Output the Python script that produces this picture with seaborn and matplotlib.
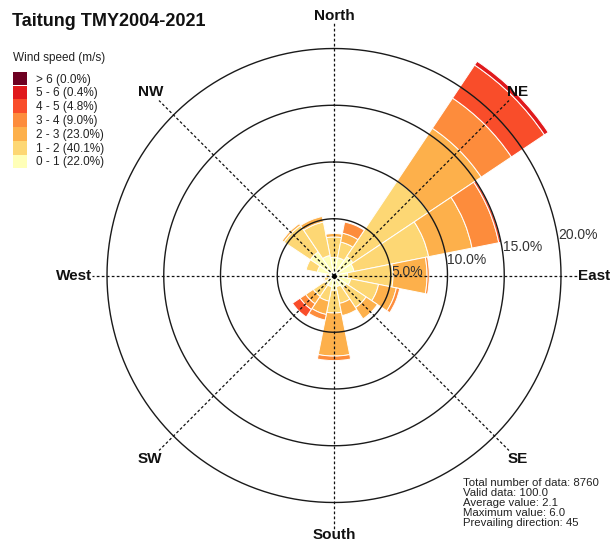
import numpy as np
import matplotlib.pyplot as plt
import matplotlib.patches as mpatches
import seaborn as sns

sns.set_theme(style="white")
plt.rcParams['font.family'] = ['Liberation Sans', 'DejaVu Sans']

directions = ['N', 'NNE', 'NE', 'ENE', 'E', 'ESE', 'SE', 'SSE',
              'S', 'SSW', 'SW', 'WSW', 'W', 'WNW', 'NW', 'NNW']
# frequency (%) of each wind speed class per direction
speed_0_1 = [1.6, 1.6, 2.0, 1.8, 1.2, 1.5, 1.3, 1.0, 1.3, 1.0, 1.0, 0.5, 0.4, 1.5, 2.5, 1.8]
speed_1_2 = [1.8, 1.4, 8.0, 6.7, 4.0, 2.5, 2.1, 1.5, 2.0, 1.3, 1.2, 0.4, 0.3, 1.0, 2.8, 3.0]
speed_2_3 = [0.3, 0.8, 5.6, 3.9, 3.0, 1.6, 1.2, 1.1, 3.8, 1.2, 0.8, 0.1, 0.0, 0.0, 0.2, 0.5]
speed_3_4 = [0.0, 1.0, 3.2, 2.4, 0.2, 0.3, 0.0, 0.0, 0.4, 0.5, 0.6, 0.0, 0.0, 0.0, 0.0, 0.0]
speed_4_5 = [0.0, 0.0, 3.5, 0.2, 0.0, 0.0, 0.0, 0.0, 0.0, 0.0, 0.8, 0.0, 0.0, 0.0, 0.0, 0.0]
speed_5_6 = [0.0, 0.0, 0.4, 0.0, 0.0, 0.0, 0.0, 0.0, 0.0, 0.0, 0.0, 0.0, 0.0, 0.0, 0.0, 0.0]
speed_6_up = [0.0] * 16

speed_classes = [speed_0_1, speed_1_2, speed_2_3, speed_3_4, speed_4_5, speed_5_6, speed_6_up]
class_labels = ['0 - 1 (22.0%)', '1 - 2 (40.1%)', '2 - 3 (23.0%)', '3 - 4 (9.0%)',
                '4 - 5 (4.8%)', '5 - 6 (0.4%)', '> 6 (0.0%)']
colors = ['#ffffb8', '#fdd774', '#fdb04b', '#fd8c3c', '#f94d2a', '#e0191c', '#6e0022']

ring_levels = [5, 10, 15, 20]
ring_labels = ['5.0%', '10.0%', '15.0%', '20.0%']
compass_names = ['North', 'NE', 'East', 'SE', 'South', 'SW', 'West', 'NW']
compass_angles = [0, 45, 90, 135, 180, 225, 270, 315]

stats_lines = ['Total number of data: 8760', 'Valid data: 100.0', 'Average value: 2.1',
               'Maximum value: 6.0', 'Prevailing direction: 45']

W, H = 614, 548
rmax = 24.0
px_per_pct = 11.35
cx, cy = 334, 275.5
R = rmax * px_per_pct

fig = plt.figure(figsize=(W / 100, H / 100), dpi=100)
ax = fig.add_axes([(cx - R) / W, (H - cy - R) / H, 2 * R / W, 2 * R / H], projection='polar')
ax.set_theta_zero_location('N')
ax.set_theta_direction(-1)
ax.set_ylim(0, rmax)
ax.set_facecolor('none')
ax.grid(False)
ax.set_xticks([])
ax.set_yticks([])
ax.spines['polar'].set_visible(False)

theta = np.deg2rad(np.arange(len(directions)) * 22.5)
width = np.deg2rad(22.5)
bottom = np.zeros(len(directions))
for vals, col in zip(speed_classes, colors):
    vals = np.array(vals)
    m = vals > 0
    if m.any():
        ax.bar(theta[m], vals[m], width=width, bottom=bottom[m], color=col,
               edgecolor='white', linewidth=0.7, zorder=2)
    bottom += vals

# rings
circ = np.linspace(0, 2 * np.pi, 721)
for r in ring_levels:
    ax.plot(circ, np.full_like(circ, r), color='#1a1a1a', lw=1.0, zorder=3)

# dashed compass lines
line_end = [22.3, 21.8, 21.6, 21.8, 22.3, 21.8, 21.3, 21.8]
for a, rend in zip(compass_angles, line_end):
    ax.plot([np.deg2rad(a), np.deg2rad(a)], [0, rend], color='#111111', lw=0.9,
            ls=(0, (2.2, 1.8)), zorder=4)
ax.plot([0], [0], 'o', color='black', ms=2.5, zorder=5)

for name, a in zip(compass_names, compass_angles):
    ax.text(np.deg2rad(a), 22.9, name, ha='center', va='center', fontsize=11,
            fontweight='bold', color='#111111', zorder=6)

# ring labels, slightly above the east line
for r, lab in zip(ring_levels, ring_labels):
    x = 0.98 * r + 0.2
    y = (2.47 * r - 8.7) / px_per_pct
    ax.text(np.arctan2(x, y), np.hypot(x, y), lab, ha='left', va='center',
            fontsize=10, color='#333333', zorder=6)

fig.text(12 / W, 1 - 22 / H, 'Taitung TMY2004-2021', fontsize=13, fontweight='bold',
         color='#111111', ha='left', va='center')
fig.text(13 / W, 1 - 57.5 / H, 'Wind speed (m/s)', fontsize=8.5, color='#222222',
         ha='left', va='center')

handles = [mpatches.Patch(facecolor=c, edgecolor='none', label=l)
           for c, l in zip(colors, class_labels)][::-1]
fig.legend(handles=handles, loc='upper left', bbox_to_anchor=(12.7 / W, 1 - 71.7 / H),
           frameon=False, fontsize=8.5, labelspacing=0, borderpad=0, borderaxespad=0,
           handlelength=1.24, handleheight=1.42, handletextpad=0.74, labelcolor='#222222')

fig.text(463 / W, 1 - 477.5 / H, '\n'.join(stats_lines), fontsize=8.2, linespacing=1.0,
         color='#222222', ha='left', va='top')

fig.savefig('out.png', dpi=100)
